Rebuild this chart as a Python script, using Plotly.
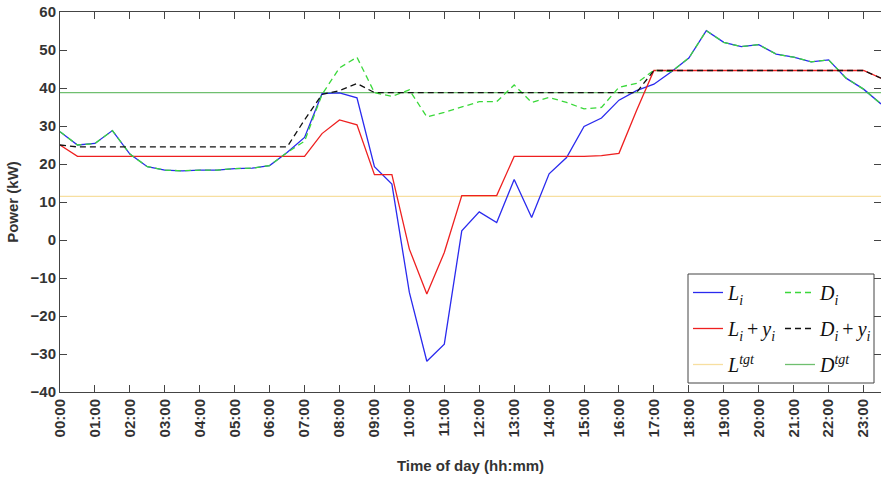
import plotly.graph_objects as go

hours = [0.0, 0.5, 1.0, 1.5, 2.0, 2.5, 3.0, 3.5, 4.0, 4.5, 5.0, 5.5,
         6.0, 6.5, 7.0, 7.5, 8.0, 8.5, 9.0, 9.5, 10.0, 10.5, 11.0, 11.5,
         12.0, 12.5, 13.0, 13.5, 14.0, 14.5, 15.0, 15.5, 16.0, 16.5, 17.0, 17.5,
         18.0, 18.5, 19.0, 19.5, 20.0, 20.5, 21.0, 21.5, 22.0, 22.5, 23.0, 23.5]

tick_hours = [0, 1, 2, 3, 4, 5, 6, 7, 8, 9, 10, 11, 12, 13, 14, 15, 16, 17, 18, 19, 20, 21, 22, 23]
tick_labels = ["00:00", "01:00", "02:00", "03:00", "04:00", "05:00", "06:00", "07:00",
               "08:00", "09:00", "10:00", "11:00", "12:00", "13:00", "14:00", "15:00",
               "16:00", "17:00", "18:00", "19:00", "20:00", "21:00", "22:00", "23:00"]

L_i = [28.5, 25.0, 25.4, 28.8, 22.6, 19.3, 18.4, 18.2, 18.4, 18.4, 18.8, 18.9,
       19.6, 23.0, 27.0, 38.5, 38.7, 37.4, 19.3, 14.7, -13.8, -31.9, -27.4, 2.4,
       7.4, 4.6, 15.9, 5.9, 17.4, 21.7, 29.9, 32.1, 36.8, 39.3, 41.0, 44.3,
       47.9, 55.1, 52.0, 50.9, 51.4, 48.9, 48.1, 46.9, 47.4, 42.6, 39.7, 35.8]

L_i_y = [25.0, 22.0, 22.0, 22.0, 22.0, 22.0, 22.0, 22.0, 22.0, 22.0, 22.0, 22.0,
         22.0, 22.0, 22.0, 28.0, 31.6, 30.3, 17.2, 17.2, -2.4, -14.2, -3.3, 11.7,
         11.7, 11.7, 22.0, 22.0, 22.0, 22.0, 22.0, 22.2, 22.8, 34.0, 44.6, 44.6,
         44.6, 44.6, 44.6, 44.6, 44.6, 44.6, 44.6, 44.6, 44.6, 44.6, 44.6, 42.6]

D_i = [28.5, 25.0, 25.4, 28.8, 22.6, 19.3, 18.4, 18.2, 18.4, 18.4, 18.8, 18.9,
       19.6, 23.0, 26.0, 38.3, 45.3, 48.1, 38.8, 37.8, 39.5, 32.4, 33.6, 34.9,
       36.4, 36.4, 40.8, 36.2, 37.5, 36.2, 34.5, 34.9, 40.2, 41.2, 44.7, 44.3,
       47.9, 55.1, 52.0, 50.9, 51.4, 48.9, 48.1, 46.9, 47.4, 42.6, 39.7, 35.8]

D_i_y = [25.0, 24.5, 24.5, 24.5, 24.5, 24.5, 24.5, 24.5, 24.5, 24.5, 24.5, 24.5,
         24.5, 24.5, 31.6, 38.3, 39.3, 41.2, 38.8, 38.8, 38.8, 38.8, 38.8, 38.8,
         38.8, 38.8, 38.8, 38.8, 38.8, 38.8, 38.8, 38.8, 38.8, 38.8, 44.6, 44.6,
         44.6, 44.6, 44.6, 44.6, 44.6, 44.6, 44.6, 44.6, 44.6, 44.6, 44.6, 42.6]

L_tgt = 11.5
D_tgt = 38.8

lbl_L = "<i>L</i><sub><i>i</i></sub>"
lbl_Ly = "<i>L</i><sub><i>i</i></sub>\u2009+\u2009<i>y</i><sub><i>i</i></sub>"
lbl_Lt = "<i>L</i><sup><i>tgt</i></sup>"
lbl_D = "<i>D</i><sub><i>i</i></sub>"
lbl_Dy = "<i>D</i><sub><i>i</i></sub>\u2009+\u2009<i>y</i><sub><i>i</i></sub>"
lbl_Dt = "<i>D</i><sup><i>tgt</i></sup>"

fig = go.Figure()
lw = 1.3
fig.add_trace(go.Scatter(x=hours, y=[L_tgt] * len(hours), mode="lines", name=lbl_Lt,
                         line=dict(color="#f7dfa0", width=lw), legend="legend",
                         legendrank=3, legendgroup="lt"))
fig.add_trace(go.Scatter(x=hours, y=[D_tgt] * len(hours), mode="lines", name=lbl_Dt,
                         line=dict(color="#6fbf6f", width=lw), legend="legend2",
                         legendrank=3, legendgroup="dt"))
fig.add_trace(go.Scatter(x=hours, y=L_i, mode="lines", name=lbl_L,
                         line=dict(color="#2a2aee", width=lw), legend="legend",
                         legendrank=1, legendgroup="l"))
fig.add_trace(go.Scatter(x=hours, y=L_i_y, mode="lines", name=lbl_Ly,
                         line=dict(color="#ee2020", width=lw), legend="legend",
                         legendrank=2, legendgroup="ly"))
fig.add_trace(go.Scatter(x=hours, y=D_i, mode="lines", name=lbl_D,
                         line=dict(color="#3ad83a", width=lw, dash="6px,4px"), legend="legend2",
                         legendrank=1, legendgroup="d"))
fig.add_trace(go.Scatter(x=hours, y=D_i_y, mode="lines", name=lbl_Dy,
                         line=dict(color="#111111", width=lw, dash="6px,4px"), legend="legend2",
                         legendrank=2, legendgroup="dy"))

W, H = 881, 484
ml, mr, mt, mb = 60, 0, 12, 92
pw = W - ml - mr
ph = H - mt - mb

def px_x(x):
    return (x - ml) / pw

def px_y(y):
    return (H - mb - y) / ph

legfont = dict(family="Liberation Serif", size=20, color="#111")
common_leg = dict(bgcolor="rgba(0,0,0,0)", borderwidth=0, font=legfont,
                  yanchor="top", xanchor="left", tracegroupgap=7, itemwidth=30,
                  traceorder="grouped")

fig.update_layout(
    width=W, height=H,
    margin=dict(l=ml, r=mr, t=mt, b=mb, pad=0),
    paper_bgcolor="white", plot_bgcolor="white",
    font=dict(family="Liberation Sans", size=15, color="#333"),
    showlegend=True,
    legend=dict(x=px_x(688), y=px_y(273), **common_leg),
    legend2=dict(x=px_x(780), y=px_y(273), **common_leg),
    xaxis=dict(range=[0, 23.5], tickvals=tick_hours, ticktext=tick_labels, tickangle=-90,
               ticks="inside", ticklen=7, tickcolor="#444", showline=True, linecolor="#444",
               linewidth=1, mirror="ticks", showgrid=False, zeroline=False,
               tickfont=dict(family="Liberation Sans", size=15, color="#333", weight="bold"),
               title=dict(text="<b>Time of day (hh:mm)</b>", standoff=24,
                          font=dict(family="Liberation Sans", size=15, color="#333"))),
    yaxis=dict(range=[-40, 60], dtick=10, ticks="inside", ticklen=7, tickcolor="#444",
               showline=True, linecolor="#444", linewidth=1, mirror="ticks",
               showgrid=False, zeroline=False,
               tickfont=dict(family="Liberation Sans", size=15, color="#333", weight="bold"),
               title=dict(text="<b>Power (kW)</b>", standoff=8,
                          font=dict(family="Liberation Sans", size=15, color="#333"))),
    shapes=[dict(type="rect", xref="paper", yref="paper",
                 x0=px_x(688), x1=px_x(874), y0=px_y(383), y1=px_y(274),
                 line=dict(color="#444", width=1), fillcolor="white", layer="above")],
)

fig.write_html("out.html")
